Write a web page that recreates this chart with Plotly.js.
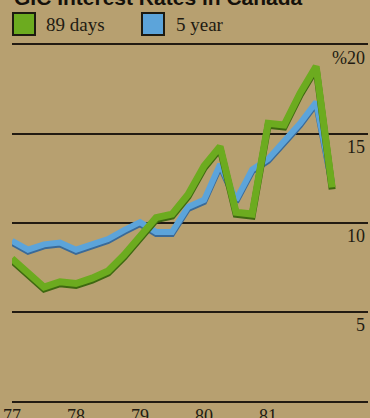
<!DOCTYPE html>
<html><head>
<script src="https://cdn.plot.ly/plotly-3.0.1.min.js"></script>
<style>body{margin:0;background:#b7a070;}#c{width:370px;height:418px;}</style>
</head><body><div id="c"></div>
<script>
const quarters = [77,77.25,77.5,77.75,78,78.25,78.5,78.75,79,79.25,79.5,79.75,80,80.25,80.5,80.75,81,81.25,81.5,81.75,82];
const days89 = [8.0,7.2,6.4,6.7,6.6,6.9,7.3,8.2,9.3,10.3,10.5,11.6,13.2,14.3,10.6,10.5,15.6,15.5,17.3,18.8,12.0];
const year5  = [9.0,8.5,8.8,8.9,8.5,8.8,9.1,9.6,10.05,9.5,9.5,10.9,11.3,13.3,11.3,13.0,13.6,14.6,15.6,16.8,12.2];
const yearTicks = [77,78,79,80,81];
const yearLabels = ['77','78','79','80','81'];
const rateTicks = [5,10,15,20];
const rateLabels = ['5','10','15','%20'];
const seriesNames = ['89 days','5 year'];

const W=370,H=418,L=12,R=2,T=45,B=17;
const pw=W-L-R, ph=H-T-B;
const xr=[77,82.56], yr=[0,20];
const shadowShift = 2/ (ph/(yr[1]-yr[0])); // 2px down
const yrShadow=[yr[0]+shadowShift, yr[1]+shadowShift];
const xp = px => (px-L)/pw;
const yp = py => (H-B-py)/ph;

const green='#6cab1f', greenDark='#3e6810';
const blue='#5ca4da', blueDark='#3a6a98';
const ink='#221b12';

const traces=[
  {x:quarters,y:year5,xaxis:'x',yaxis:'y',mode:'lines',line:{color:blueDark,width:6},showlegend:false,hoverinfo:'skip'},
  {x:quarters,y:year5,xaxis:'x',yaxis:'y2',mode:'lines',line:{color:blue,width:6},name:seriesNames[1],showlegend:false},
  {x:quarters,y:days89,xaxis:'x',yaxis:'y3',mode:'lines',line:{color:greenDark,width:7},showlegend:false,hoverinfo:'skip'},
  {x:quarters,y:days89,xaxis:'x',yaxis:'y4',mode:'lines',line:{color:green,width:7},name:seriesNames[0],showlegend:false}
];

const hidden = {range:yrShadow,visible:false,fixedrange:true};
const layout={
  width:W,height:H,margin:{l:L,r:R,t:T,b:B},
  paper_bgcolor:'#b7a070',plot_bgcolor:'rgba(0,0,0,0)',
  showlegend:false,
  xaxis:{range:xr,tickvals:yearTicks,ticktext:yearLabels,ticks:'',showgrid:false,zeroline:false,
         showline:true,mirror:true,linecolor:ink,linewidth:2,ticklabelstandoff:-3,
         tickfont:{family:'Liberation Serif',size:18,color:ink}},
  yaxis:Object.assign({},hidden),
  yaxis2:{overlaying:'y',side:'right',range:yr,tickvals:rateTicks,ticktext:rateLabels,ticks:'',
          ticklabelposition:'inside bottom',showgrid:true,gridcolor:ink,gridwidth:2,zeroline:false,
          tickfont:{family:'Liberation Serif',size:18,color:ink}},
  yaxis3:Object.assign({overlaying:'y'},hidden),
  yaxis4:{overlaying:'y',range:yr,visible:false},
  shapes:[
    {type:'rect',xref:'paper',yref:'paper',x0:xp(13),x1:xp(35),y0:yp(35),y1:yp(13),fillcolor:green,line:{color:'#1d1a10',width:2}},
    {type:'rect',xref:'paper',yref:'paper',x0:xp(142),x1:xp(164),y0:yp(35),y1:yp(13),fillcolor:blue,line:{color:'#1d1a10',width:2}}
  ],
  annotations:[
    {text:'<b>GIC Interest Rates in Canada</b>',xref:'paper',yref:'paper',x:xp(12),y:yp(11),xanchor:'left',yanchor:'bottom',showarrow:false,
     font:{family:'Liberation Sans',size:21,color:'#15110b'}},
    {text:seriesNames[0],xref:'paper',yref:'paper',x:xp(44),y:yp(24),xanchor:'left',yanchor:'middle',showarrow:false,
     font:{family:'Liberation Serif',size:19,color:ink}},
    {text:seriesNames[1],xref:'paper',yref:'paper',x:xp(174),y:yp(24),xanchor:'left',yanchor:'middle',showarrow:false,
     font:{family:'Liberation Serif',size:19,color:ink}}
  ]
};
Plotly.newPlot('c',traces,layout,{staticPlot:true,displayModeBar:false});
</script></body></html>
